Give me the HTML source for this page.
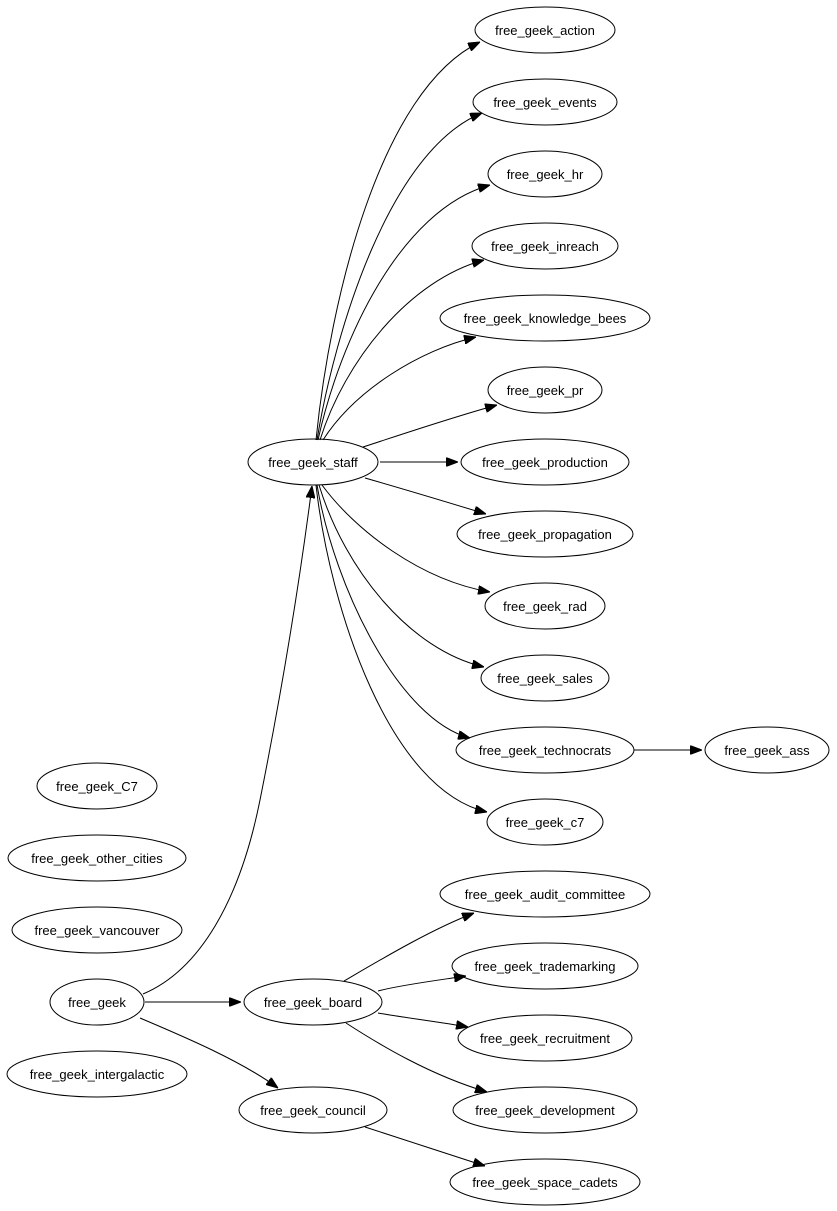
<!DOCTYPE html>
<html><head><meta charset="utf-8"><style>
html,body{margin:0;padding:0;background:#fff;}
svg{display:block;}
text{font-family:"Liberation Sans",Arial,sans-serif;font-size:13px;fill:#000;text-anchor:middle;}
ellipse{fill:none;stroke:#000;stroke-width:1;}
path{fill:none;stroke:#000;stroke-width:1;}
</style></head><body>
<svg width="837" height="1211" viewBox="0 0 837 1211" xmlns="http://www.w3.org/2000/svg">
<defs>
<marker id="a" markerWidth="12" markerHeight="9" refX="12" refY="4.5" orient="auto" markerUnits="userSpaceOnUse">
<path d="M0,0 L12,4.5 L0,9 Z" style="fill:#000;stroke:#000"/>
</marker>
</defs>
<g marker-end="url(#a)">
<path d="M316,440 C330,300 380,90 480,42"/>
<path d="M317,440 C335,330 390,150 482,113"/>
<path d="M318,440 C340,340 400,210 490,185"/>
<path d="M320,440 C345,360 410,280 484,260"/>
<path d="M323,440 C355,390 420,350 476,337"/>
<path d="M363,447 C400,435 450,418 497,405"/>
<path d="M380,462 L458,462"/>
<path d="M365,478 C400,488 450,503 486,514"/>
<path d="M322,485 C355,530 420,580 490,592"/>
<path d="M319,485 C345,570 410,650 484,667"/>
<path d="M317,485 C335,590 400,720 470,738"/>
<path d="M316,485 C330,610 390,790 487,812"/>
<path d="M143,994 C200,970 240,900 260,800 C290,650 305,540 312,486"/>
<path d="M634,750 L702,750"/>
<path d="M145,1002 L241,1002"/>
<path d="M140,1018 C180,1035 240,1060 278,1088"/>
<path d="M344,981 C380,960 430,930 474,913"/>
<path d="M378,991 C400,985 440,980 466,976"/>
<path d="M378,1013 C400,1017 440,1022 468,1027"/>
<path d="M346,1023 C380,1045 430,1075 487,1092"/>
<path d="M365,1127 C400,1138 450,1155 485,1166"/>
</g>
<ellipse cx="545" cy="30" rx="70" ry="23"/><text x="545" y="35">free_geek_action</text>
<ellipse cx="545" cy="102" rx="72" ry="23"/><text x="545" y="107">free_geek_events</text>
<ellipse cx="545" cy="174" rx="57" ry="23"/><text x="545" y="179">free_geek_hr</text>
<ellipse cx="545" cy="246" rx="73" ry="23"/><text x="545" y="251">free_geek_inreach</text>
<ellipse cx="545" cy="318" rx="105" ry="23"/><text x="545" y="323">free_geek_knowledge_bees</text>
<ellipse cx="545" cy="390" rx="57" ry="23"/><text x="545" y="395">free_geek_pr</text>
<ellipse cx="545" cy="462" rx="84" ry="23"/><text x="545" y="467">free_geek_production</text>
<ellipse cx="545" cy="534" rx="88" ry="23"/><text x="545" y="539">free_geek_propagation</text>
<ellipse cx="545" cy="606" rx="60" ry="23"/><text x="545" y="611">free_geek_rad</text>
<ellipse cx="545" cy="678" rx="64" ry="23"/><text x="545" y="683">free_geek_sales</text>
<ellipse cx="545" cy="750" rx="89" ry="23"/><text x="545" y="755">free_geek_technocrats</text>
<ellipse cx="767" cy="750" rx="62" ry="23"/><text x="767" y="755">free_geek_ass</text>
<ellipse cx="545" cy="822" rx="58" ry="23"/><text x="545" y="827">free_geek_c7</text>
<ellipse cx="545" cy="894" rx="105" ry="23"/><text x="545" y="899">free_geek_audit_committee</text>
<ellipse cx="545" cy="966" rx="93" ry="23"/><text x="545" y="971">free_geek_trademarking</text>
<ellipse cx="545" cy="1038" rx="87" ry="23"/><text x="545" y="1043">free_geek_recruitment</text>
<ellipse cx="545" cy="1110" rx="92" ry="23"/><text x="545" y="1115">free_geek_development</text>
<ellipse cx="545" cy="1182" rx="95" ry="23"/><text x="545" y="1187">free_geek_space_cadets</text>
<ellipse cx="313" cy="462" rx="65" ry="23"/><text x="313" y="467">free_geek_staff</text>
<ellipse cx="313" cy="1002" rx="69" ry="23"/><text x="313" y="1007">free_geek_board</text>
<ellipse cx="313" cy="1110" rx="74" ry="23"/><text x="313" y="1115">free_geek_council</text>
<ellipse cx="97" cy="1002" rx="47" ry="23"/><text x="97" y="1007">free_geek</text>
<ellipse cx="97" cy="786" rx="60" ry="23"/><text x="97" y="791">free_geek_C7</text>
<ellipse cx="97" cy="858" rx="89" ry="23"/><text x="97" y="863">free_geek_other_cities</text>
<ellipse cx="97" cy="930" rx="85" ry="23"/><text x="97" y="935">free_geek_vancouver</text>
<ellipse cx="97" cy="1074" rx="90" ry="23"/><text x="97" y="1079">free_geek_intergalactic</text>
</svg>
</body></html>
